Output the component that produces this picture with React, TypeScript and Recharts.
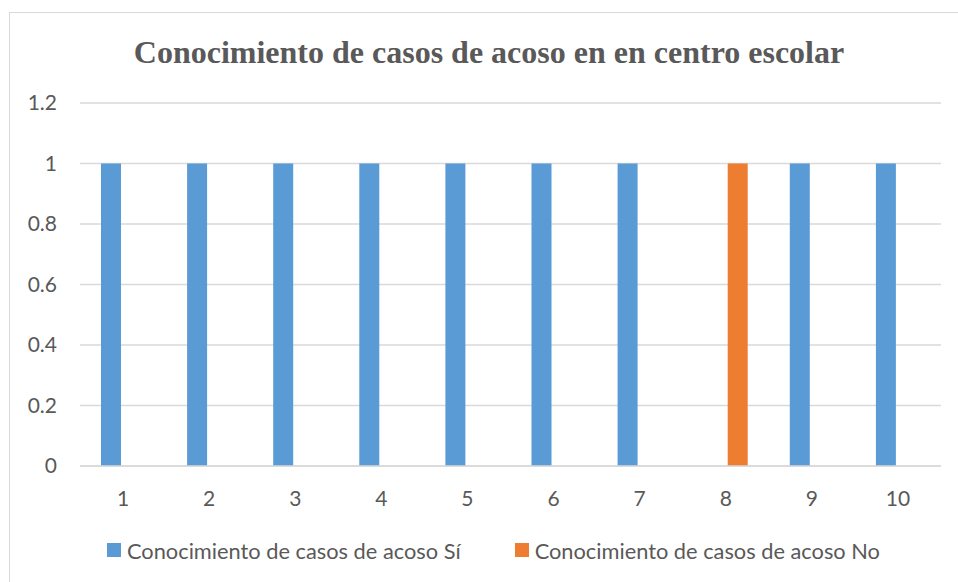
import React from "react";
import { BarChart, Bar, XAxis, YAxis, CartesianGrid } from "recharts";

const categories = ["1", "2", "3", "4", "5", "6", "7", "8", "9", "10"];
const siValues = [1, 1, 1, 1, 1, 1, 1, 0, 1, 1];
const noValues = [0, 0, 0, 0, 0, 0, 0, 1, 0, 0];
const yTicks = [0, 0.2, 0.4, 0.6, 0.8, 1, 1.2];
const seriesNames = ["Conocimiento de casos de acoso Sí", "Conocimiento de casos de acoso No"];
const titleText = "Conocimiento de casos de acoso en en centro escolar";

const data = categories.map((c, i) => ({ cat: c, si: siValues[i], no: noValues[i] }));

const BLUE = "#5B9BD5";
const ORANGE = "#ED7D31";
const TEXT = "#595959";
const GRID = "#D9D9D9";
const FONT = "Lato, 'Open Sans', sans-serif";

export default function App() {
  return (
    <div style={{ position: "fixed", left: 0, top: 0, width: 958, height: 582, overflow: "hidden", background: "#fff" }}>
      <div style={{ position: "absolute", left: 9, top: 12, width: 1000, height: 700, border: "1px solid #D9D9D9" }} />
      <div
        style={{
          position: "absolute",
          left: 0,
          width: 978,
          top: 33,
          textAlign: "center",
          fontFamily: "'Liberation Serif', 'Times New Roman', serif",
          fontWeight: "bold",
          fontSize: 32,
          lineHeight: "38px",
          color: TEXT,
          whiteSpace: "nowrap",
        }}
      >
        {titleText}
      </div>
      <div style={{ position: "absolute", left: 0, top: 0 }}>
        <BarChart
          width={958}
          height={582}
          data={data}
          margin={{ top: 103, right: 17, bottom: 76, left: 0 }}
          barGap={4}
          barSize={20}
        >
          <CartesianGrid vertical={false} stroke={GRID} strokeWidth={1.3} />
          <XAxis
            dataKey="cat"
            axisLine={{ stroke: GRID, strokeWidth: 1.5 }}
            tickLine={false}
            tickSize={0}
            tickMargin={25}
            height={40}
            tick={{ fill: TEXT, fontSize: 21, fontFamily: FONT }}
          />
          <YAxis
            domain={[0, 1.2]}
            ticks={yTicks}
            axisLine={false}
            tickLine={false}
            tickSize={0}
            tickMargin={23}
            width={80}
            tick={{ fill: TEXT, fontSize: 21, fontFamily: FONT }}
          />
          <Bar dataKey="si" name={seriesNames[0]} fill={BLUE} isAnimationActive={false} />
          <Bar dataKey="no" name={seriesNames[1]} fill={ORANGE} isAnimationActive={false} />
        </BarChart>
      </div>
      <div
        style={{
          position: "absolute",
          left: 107,
          top: 536,
          height: 28,
          display: "flex",
          alignItems: "center",
          fontFamily: FONT,
          fontSize: 21.8,
          color: TEXT,
        }}
      >
        {[BLUE, ORANGE].map((col, i) => (
          <div key={i} style={{ display: "flex", alignItems: "center", marginRight: i === 0 ? 54 : 0 }}>
            <span style={{ display: "inline-block", width: 14, height: 14, background: col, marginRight: 6 }} />
            <span style={{ whiteSpace: "nowrap" }}>{seriesNames[i]}</span>
          </div>
        ))}
      </div>
    </div>
  );
}
